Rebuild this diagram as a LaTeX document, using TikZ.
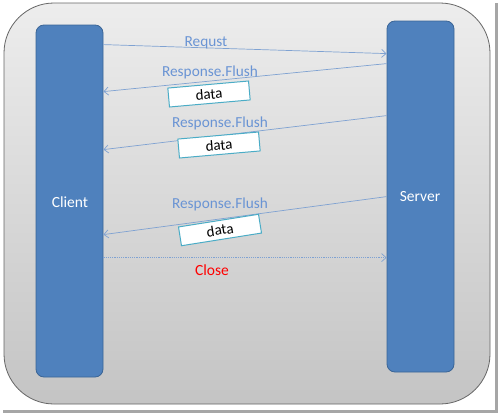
\documentclass[tikz,border=0pt]{standalone}
\usepackage{fontspec}
\setmainfont{Carlito}
\usetikzlibrary{arrows.meta}
\definecolor{barfill}{HTML}{4F81BD}
\definecolor{barline}{HTML}{3B6596}
\definecolor{msgline}{HTML}{7FA2D2}
\definecolor{msgtext}{HTML}{6A94D4}
\definecolor{databorder}{HTML}{4BACC6}
\definecolor{frameline}{HTML}{666666}
\definecolor{bgtop}{HTML}{EDEDED}
\definecolor{bgbot}{HTML}{C4C4C4}
\tikzset{
  x=1pt, y=-1pt,
  bar/.style={draw=barline, line width=0.8pt, fill=barfill, rounded corners=8pt, inner sep=0pt},
  bartext/.style={text=white, font=\fontsize{15.5}{17}\selectfont},
  msg/.style={draw=msgline, line width=0.7pt, -{Straight Barb[length=4.5pt,width=8pt]}},
  closemsg/.style={msg, dash pattern=on 1.2pt off 1pt},
  msglabel/.style={text=msgtext, font=\fontsize{15.3}{17}\selectfont, inner sep=0pt},
  closelabel/.style={text=red, font=\fontsize{15.5}{17}\selectfont, inner sep=0pt},
  databox/.style={draw=databorder, line width=1pt, fill=white, minimum width=81pt, minimum height=19pt, inner sep=0pt, font=\fontsize{15}{17}\selectfont, text=black}
}
\begin{document}
\begin{tikzpicture}
\useasboundingbox (0,0) rectangle (500,415);
% screenshot frame shadow
\fill[white] (0,0) rectangle (500,415);
\fill[gray!70] (495,3) rectangle (498,413);
\fill[gray!70] (3,410) rectangle (498,413);
\fill[white] (0,0) rectangle (495,410);
% outer rounded panel
\shade[top color=bgtop, bottom color=bgbot, rounded corners=50pt] (4,3) rectangle (490,404);
\draw[frameline, line width=0.8pt, rounded corners=50pt] (4,3) rectangle (490,404);
% bars
\node[bar, minimum width=67pt, minimum height=352pt] (client) at (69.5,201) {};
\node[bar, minimum width=67pt, minimum height=351pt] (server) at (420.5,196.5) {};
\node[bartext] (clientlabel) at (70,202) {Client};
\node[bartext] (serverlabel) at (420,197) {Server};
% messages
\draw[msg] ([yshift=-20pt]client.north east) -- ([yshift=-33pt]server.north west);
\draw[msg] ([yshift=-43pt]server.north west) -- ([yshift=-67pt]client.north east);
\draw[msg] ([yshift=-95pt]server.north west) -- ([yshift=-125pt]client.north east);
\draw[msg] ([yshift=-176pt]server.north west) -- ([yshift=-210pt]client.north east);
\draw[closemsg] ([yshift=-233pt]client.north east) -- ([yshift=-237pt]server.north west);
% labels
\node[msglabel] (l0) at (206,43) {Requst};
\node[msglabel] (l1) at (210,72) {Response.Flush};
\node[msglabel] (l2) at (220,123) {Response.Flush};
\node[msglabel] (l3) at (220,204) {Response.Flush};
\node[closelabel] (lc) at (212,270) {Close};
% data boxes
\node[databox, rotate=5] (d1) at (209,94) {data};
\node[databox, rotate=5] (d2) at (219,145) {data};
\node[databox, rotate=9] (d3) at (220,230) {data};
\end{tikzpicture}
\end{document}
